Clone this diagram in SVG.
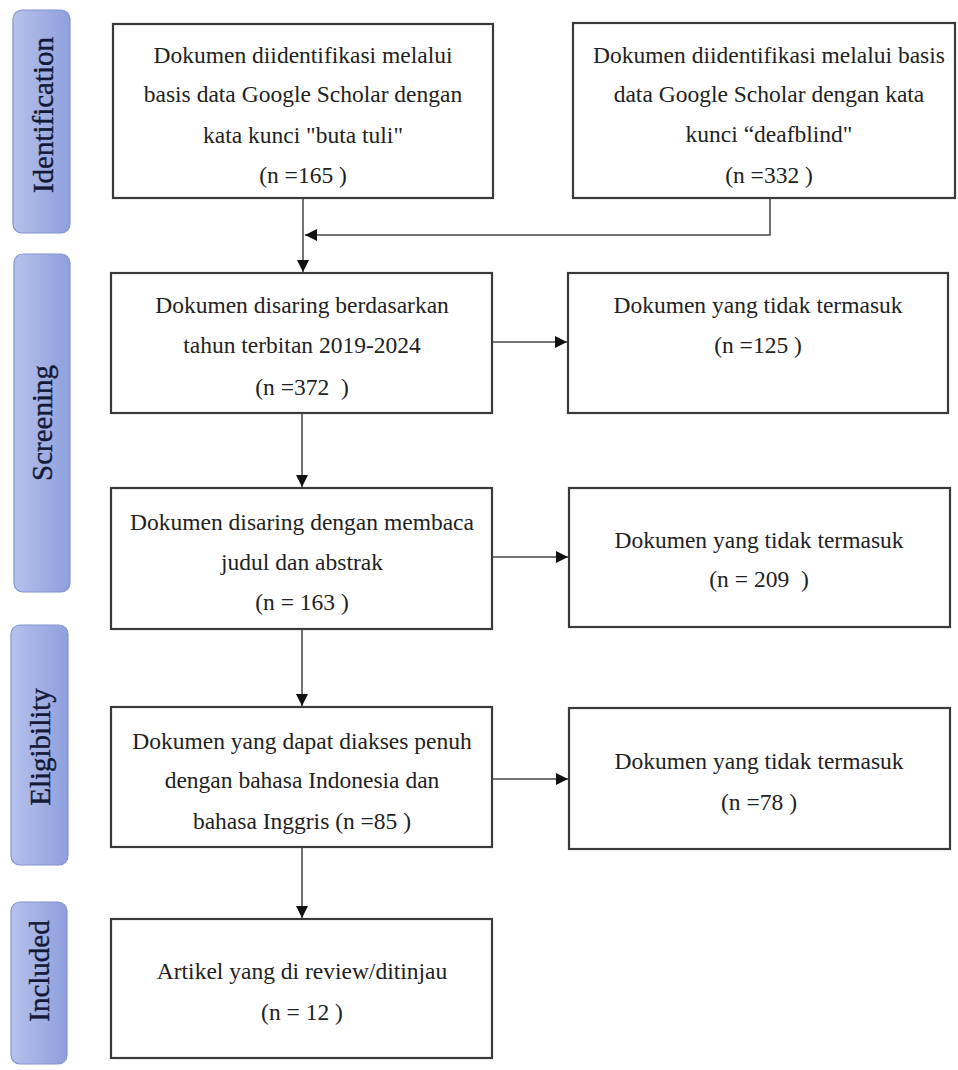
<svg xmlns="http://www.w3.org/2000/svg" width="958" height="1070" viewBox="0 0 958 1070">
<defs>
<linearGradient id="stage" x1="0" y1="0" x2="1" y2="0">
<stop offset="0" stop-color="#b6c1ec"/>
<stop offset="1" stop-color="#8e9fdc"/>
</linearGradient>
<marker id="ah" viewBox="0 0 12 12" refX="12" refY="6" markerWidth="12" markerHeight="12" markerUnits="userSpaceOnUse" orient="auto">
<path d="M0,0 L12,6 L0,12 Z" fill="#111"/>
</marker>
</defs>
<style>
.stage rect{fill:url(#stage);stroke:#8494d2;stroke-width:1.2}
.stage text{font-family:"Liberation Serif","Times New Roman",serif;font-size:29px;fill:#141a36;stroke:#141a36;stroke-width:0.4;text-anchor:middle;dominant-baseline:central}
.box rect{fill:#fff;stroke:#3a3a3a;stroke-width:2.2}
.box text{font-family:"Liberation Serif","Times New Roman",serif;font-size:23.5px;fill:#222;text-anchor:middle;white-space:pre}
#connectors path{fill:none;stroke:#444;stroke-width:1.5;marker-end:url(#ah)}
</style>
<rect width="958" height="1070" fill="#fff"/>

<g id="stage-identification" class="stage">
<rect x="13" y="10" width="57" height="223" rx="9"/>
<text transform="translate(43,115) rotate(-90)">Identification</text>
</g>
<g id="stage-screening" class="stage">
<rect x="14" y="254" width="56" height="338" rx="9"/>
<text transform="translate(42,423) rotate(-90)">Screening</text>
</g>
<g id="stage-eligibility" class="stage">
<rect x="11" y="625" width="57" height="240" rx="9"/>
<text transform="translate(40,747) rotate(-90)">Eligibility</text>
</g>
<g id="stage-included" class="stage">
<rect x="11" y="902" width="56" height="162" rx="9"/>
<text transform="translate(39,971) rotate(-90)">Included</text>
</g>

<g id="box-id1" class="box">
<rect x="113" y="24" width="380" height="174"/>
<text x="303" y="63">Dokumen diidentifikasi melalui</text>
<text x="303" y="102">basis data Google Scholar dengan</text>
<text x="303" y="143">kata kunci "buta tuli"</text>
<text x="303" y="183">(n =165 )</text>
</g>
<g id="box-id2" class="box">
<rect x="573" y="23" width="382" height="175"/>
<text x="769" y="63">Dokumen diidentifikasi melalui basis</text>
<text x="769" y="102">data Google Scholar dengan kata</text>
<text x="769" y="142">kunci “deafblind"</text>
<text x="769" y="183">(n =332 )</text>
</g>
<g id="box-screen1" class="box">
<rect x="111" y="273" width="381" height="140"/>
<text x="302" y="313">Dokumen disaring berdasarkan</text>
<text x="302" y="353">tahun terbitan 2019-2024</text>
<text x="302" y="395">(n =372  )</text>
</g>
<g id="box-excl1" class="box">
<rect x="568" y="273" width="380" height="140"/>
<text x="758" y="313">Dokumen yang tidak termasuk</text>
<text x="758" y="353">(n =125 )</text>
</g>
<g id="box-screen2" class="box">
<rect x="111" y="488" width="381" height="141"/>
<text x="302" y="530">Dokumen disaring dengan membaca</text>
<text x="302" y="570">judul dan abstrak</text>
<text x="302" y="610">(n = 163 )</text>
</g>
<g id="box-excl2" class="box">
<rect x="569" y="488" width="381" height="139"/>
<text x="759" y="548">Dokumen yang tidak termasuk</text>
<text x="759" y="587">(n = 209  )</text>
</g>
<g id="box-elig" class="box">
<rect x="111" y="707" width="381" height="140"/>
<text x="302" y="749">Dokumen yang dapat diakses penuh</text>
<text x="302" y="788">dengan bahasa Indonesia dan</text>
<text x="302" y="829">bahasa Inggris (n =85 )</text>
</g>
<g id="box-excl3" class="box">
<rect x="569" y="708" width="381" height="141"/>
<text x="759" y="769">Dokumen yang tidak termasuk</text>
<text x="759" y="810">(n =78 )</text>
</g>
<g id="box-included" class="box">
<rect x="111" y="919" width="381" height="139"/>
<text x="302" y="979">Artikel yang di review/ditinjau</text>
<text x="302" y="1020">(n = 12 )</text>
</g>

<g id="connectors">
<path d="M303,198 L303,272"/>
<path d="M770,198 L770,235 L305,235"/>
<path d="M492,342 L567,342"/>
<path d="M302,413 L302,487"/>
<path d="M492,557 L568,557"/>
<path d="M302,629 L302,706"/>
<path d="M492,779 L568,779"/>
<path d="M302,847 L302,918"/>
</g>
</svg>
